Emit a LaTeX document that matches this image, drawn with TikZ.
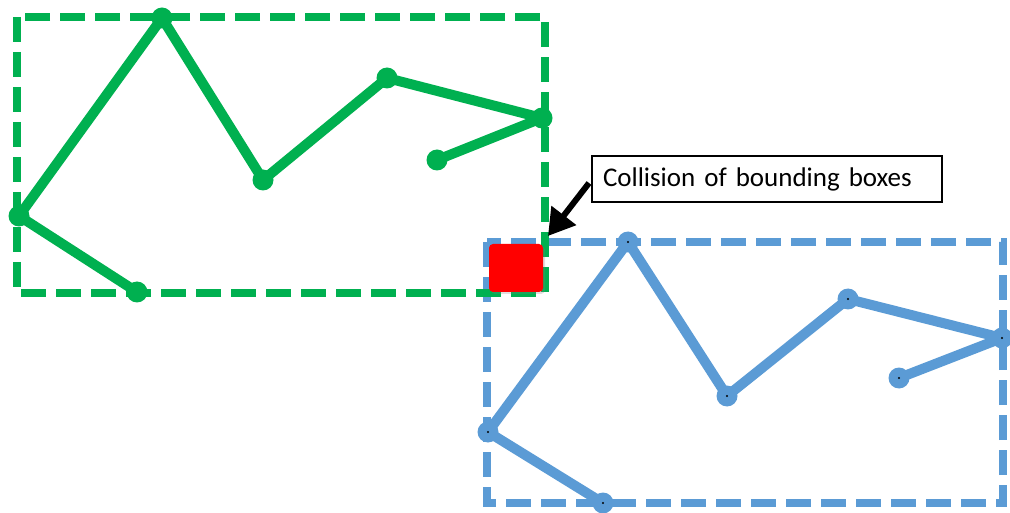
\documentclass[tikz,border=0pt]{standalone}
\usepackage{fontspec}
\setmainfont{Carlito}
\usetikzlibrary{arrows.meta,calc,shadows}
\definecolor{boxgreen}{HTML}{00B050}
\definecolor{boxblue}{HTML}{5B9BD5}
\definecolor{hitred}{HTML}{FF0000}
\tikzset{
  bbox/.style={line width=7.5pt, dash pattern=on 25pt off 10pt},
  poly/.style={line width=10pt, line join=round, line cap=round},
  vtx/.style={circle, inner sep=0pt, minimum size=21pt},
  callout/.style={draw=black, line width=2pt, fill=white, text width=328pt,
    align=left, inner xsep=11pt, minimum height=46pt,
    font=\fontsize{27pt}{30pt}\selectfont},
  pointer/.style={line width=6pt, -{Triangle[length=26pt,width=30pt]}}
}
\begin{document}
\begin{tikzpicture}[x=1pt,y=-1pt]
\useasboundingbox (0,0) rectangle (1010,513);

% second shape (blue) and its bounding box
\draw[bbox, boxblue] (487,242) rectangle (1003,503);
\coordinate (b1) at (603,503);
\coordinate (b2) at (488,432);
\coordinate (b3) at (628,242);
\coordinate (b4) at (727,396);
\coordinate (b5) at (848,299);
\coordinate (b6) at (1002,338);
\coordinate (b7) at (899,378);
\draw[poly, boxblue] (b1) -- (b2) -- (b3) -- (b4) -- (b5) -- (b6) -- (b7);
\foreach \p in {b1,b2,b3,b4,b5,b6,b7}{
  \node[vtx, fill=boxblue] at (\p) {};
  \fill[black] (\p) circle (1.2pt);
}

% first shape (green) and its bounding box
\draw[bbox, boxgreen] (17,17) rectangle (545,293);
\coordinate (g1) at (137,292);
\coordinate (g2) at (19,216);
\coordinate (g3) at (162,18);
\coordinate (g4) at (263,180);
\coordinate (g5) at (387,78);
\coordinate (g6) at (542,118);
\coordinate (g7) at (437,160);
\draw[poly, boxgreen] (g1) -- (g2) -- (g3) -- (g4) -- (g5) -- (g6) -- (g7);
\foreach \p in {g1,g2,g3,g4,g5,g6,g7}{
  \node[vtx, fill=boxgreen] at (\p) {};
}

% overlap region of the two boxes
\node[fill=hitred, rounded corners=4pt, minimum width=54pt, minimum height=48pt,
  inner sep=0pt, drop shadow={opacity=0.25, shadow xshift=2pt, shadow yshift=-2pt}]
  (hit) at (516,268) {};

% label and pointer
\node[callout, anchor=west] (cb) at (591,179) {Collision of bounding boxes};
\coordinate (tip) at (548,236);
\draw[pointer] ($(cb.west)+(-2,4)$) -- (tip);
\end{tikzpicture}
\end{document}
